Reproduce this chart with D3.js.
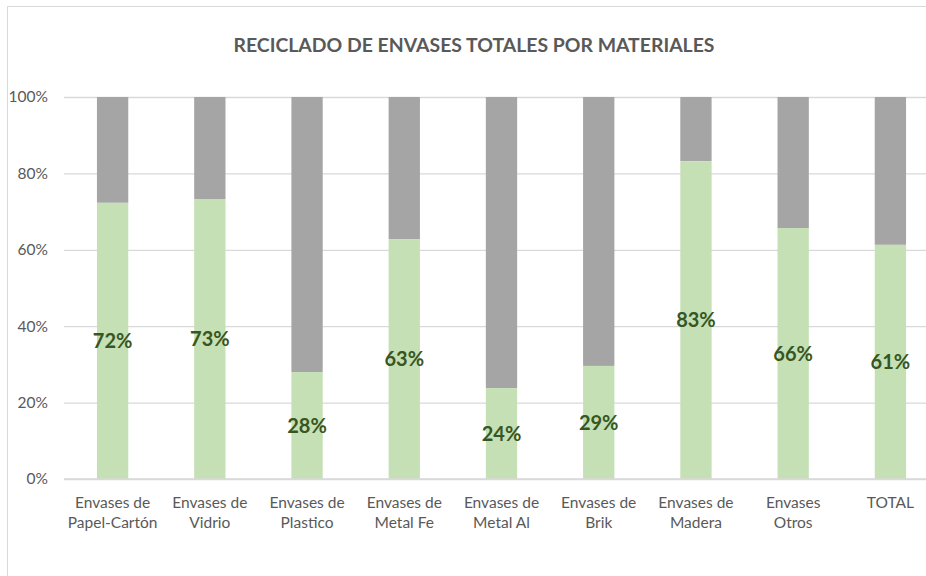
<!DOCTYPE html>
<html>
<head>
<meta charset="utf-8">
<script src="https://cdn.jsdelivr.net/npm/d3@7"></script>
<style>
  body{margin:0;background:#fff;}
  svg{display:block;font-family:Lato,"Open Sans",sans-serif;}
</style>
</head>
<body>
<script>
// data
var categories=["Envases de|Papel-Cartón","Envases de|Vidrio","Envases de|Plastico","Envases de|Metal Fe","Envases de|Metal Al","Envases de|Brik","Envases de|Madera","Envases|Otros","TOTAL"]
var reciclado=[72.3,73.3,28.0,62.8,23.8,29.6,83.2,65.7,61.3]
var labels=["72%","73%","28%","63%","24%","29%","83%","66%","61%"]
var yTicks=[0,20,40,60,80,100]
var title="RECICLADO DE ENVASES TOTALES POR MATERIALES"

var drawChart=function(){
  var screen={width:926,height:576}
  var plot={left:64,right:939,top:97,bottom:479}

  var svg=d3.select("body").append("svg")
    .attr('width',screen.width)
    .attr('height',screen.height)

  // chart frame
  svg.append("rect")
    .attr('x',7.5).attr('y',6.5)
    .attr('width',screen.width+20).attr('height',screen.height+20)
    .attr('fill','none').attr('stroke','#d9d9d9')

  // scales
  var xScale=d3.scaleBand()
    .domain(categories)
    .range([plot.left,plot.right])
    .paddingInner(0.678)
    .paddingOuter(0.339)
  var yScale=d3.scaleLinear()
    .domain([0,100])
    .range([plot.bottom,plot.top])

  // title
  svg.append("text")
    .attr('x',474).attr('y',52)
    .attr('text-anchor','middle')
    .attr('font-size',18.5)
    .attr('font-weight','bold')
    .attr('fill','#595959')
    .attr('textLength',481)
    .attr('lengthAdjust','spacingAndGlyphs')
    .text(title)

  // grid + y labels
  var yAxis=d3.axisLeft(yScale)
    .tickValues(yTicks)
    .tickSize(-(screen.width-plot.left))
    .tickPadding(16)
    .tickFormat(function(d){return d+"%"})
  var gy=svg.append("g")
    .attr('transform','translate('+plot.left+',0)')
    .call(yAxis)
  gy.select(".domain").remove()
  gy.selectAll("line").attr('stroke','#d9d9d9').attr('stroke-width',1.3)
  gy.selectAll("text")
    .attr('font-size',15.5)
    .attr('fill','#595959')
    .attr('font-family','Lato,sans-serif')

  // bars
  var bars=svg.append("g").selectAll("g")
    .data(categories)
    .enter()
    .append("g")

  bars.append("rect")
    .attr('x',function(d){return xScale(d)})
    .attr('width',xScale.bandwidth())
    .attr('y',yScale(100))
    .attr('height',function(d,i){return yScale(reciclado[i])-yScale(100)})
    .attr('fill','#a5a5a5')

  bars.append("rect")
    .attr('x',function(d){return xScale(d)})
    .attr('width',xScale.bandwidth())
    .attr('y',function(d,i){return yScale(reciclado[i])})
    .attr('height',function(d,i){return yScale(0)-yScale(reciclado[i])})
    .attr('fill','#c5e0b4')

  // baseline
  svg.append("line")
    .attr('x1',plot.left).attr('x2',screen.width)
    .attr('y1',yScale(0)).attr('y2',yScale(0))
    .attr('stroke','#d9d9d9').attr('stroke-width',1.5)

  // value labels
  bars.append("text")
    .attr('x',function(d){return xScale(d)+xScale.bandwidth()/2})
    .attr('y',function(d,i){return (yScale(0)+yScale(reciclado[i]))/2})
    .attr('dy','0.36em')
    .attr('text-anchor','middle')
    .attr('font-size',20)
    .attr('font-weight','bold')
    .attr('fill','#375623')
    .text(function(d,i){return labels[i]})

  // category labels
  var cat=svg.append("g").selectAll("text")
    .data(categories)
    .enter()
    .append("text")
    .attr('x',function(d){return xScale(d)+xScale.bandwidth()/2})
    .attr('y',508)
    .attr('text-anchor','middle')
    .attr('font-size',15.5)
    .attr('fill','#595959')
  cat.selectAll("tspan")
    .data(function(d){return d.split("|")})
    .enter()
    .append("tspan")
    .attr('x',function(){return +d3.select(this.parentNode).attr('x')})
    .attr('dy',function(d,i){return i==0?0:20})
    .text(function(d){return d})
}

drawChart()
</script>
</body>
</html>
